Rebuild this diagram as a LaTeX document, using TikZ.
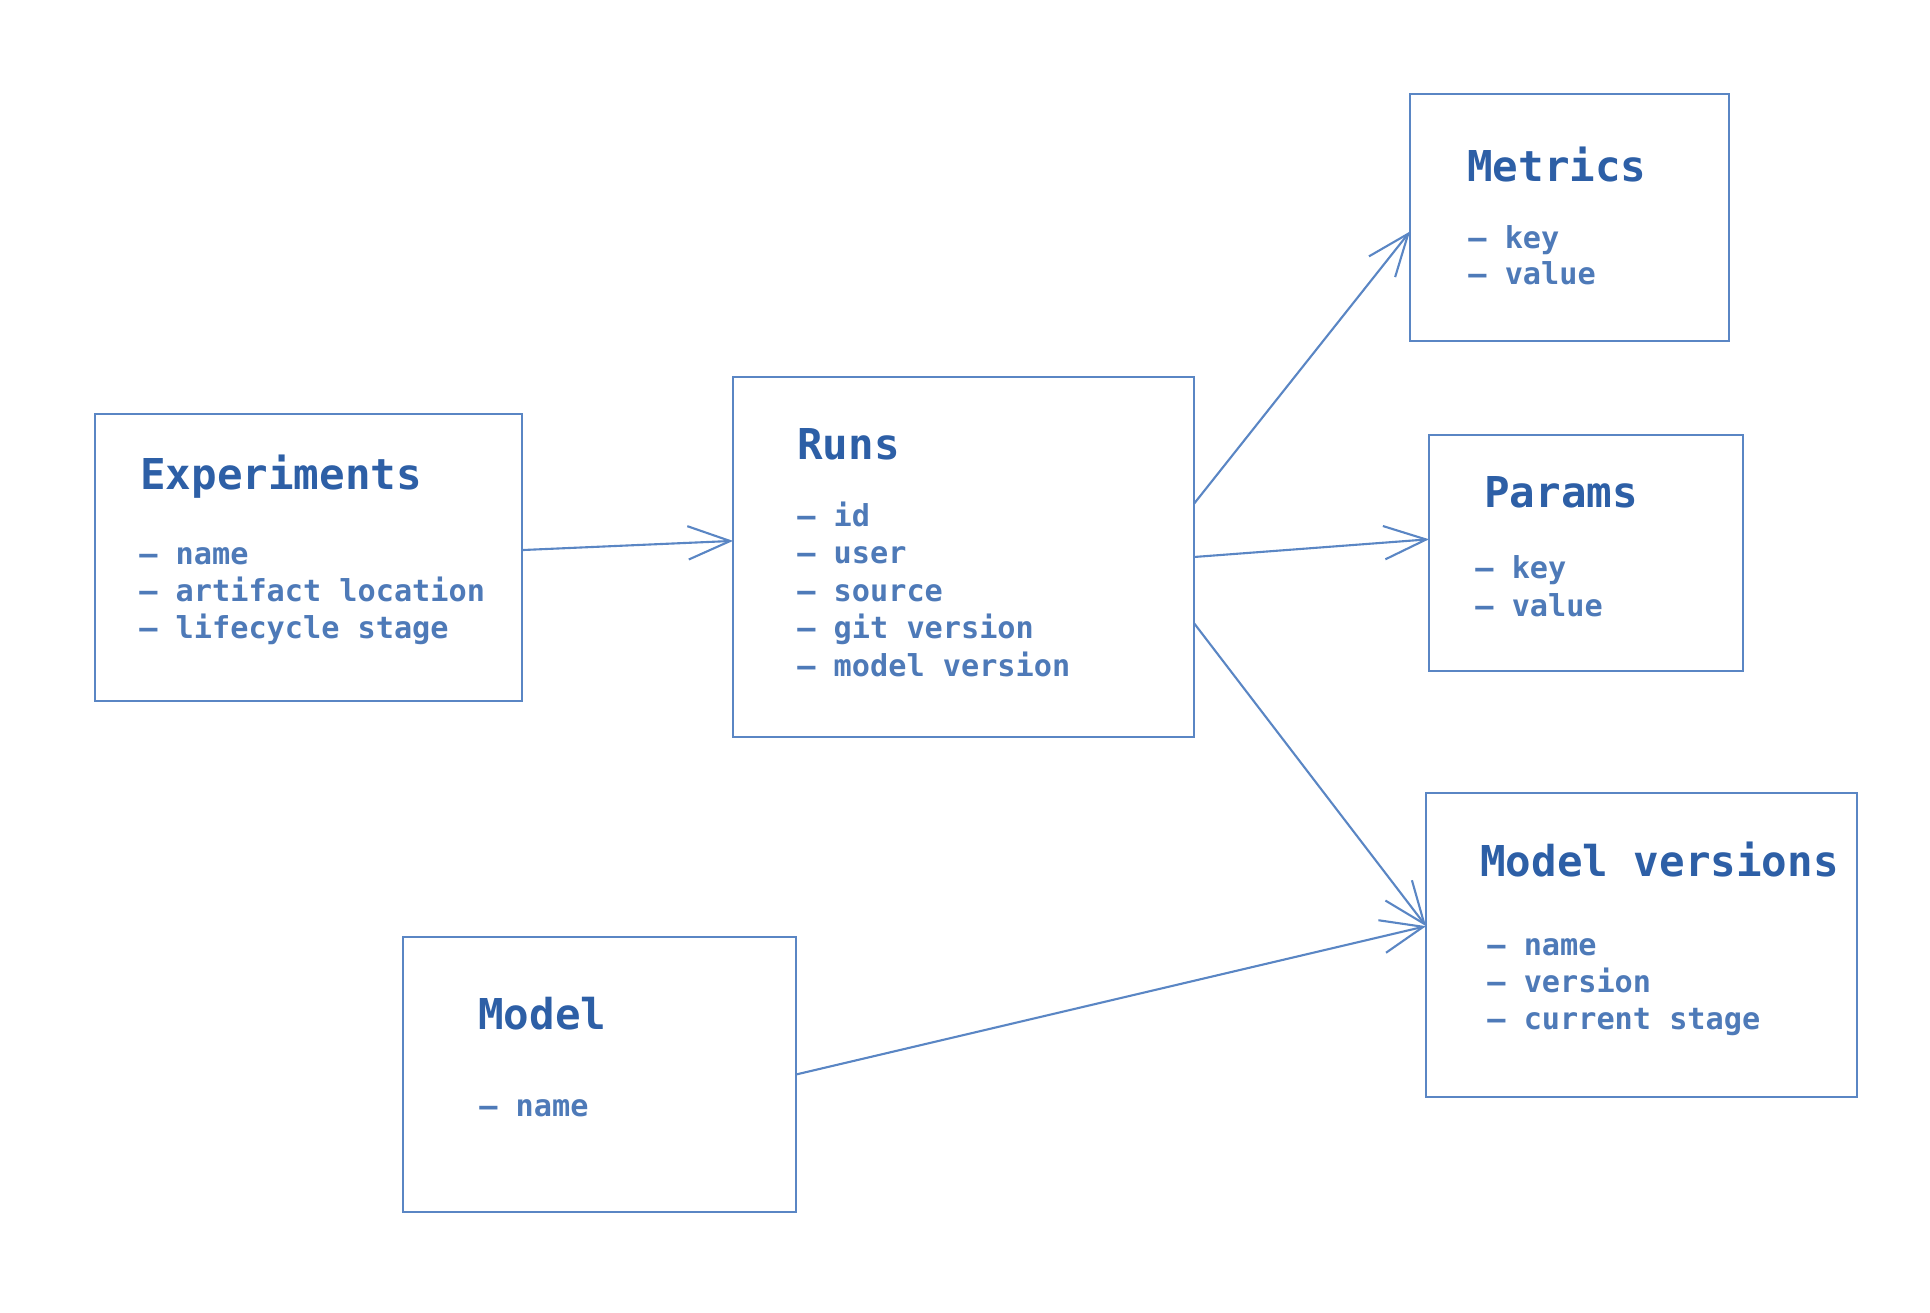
\documentclass[tikz,border=0pt]{standalone}
\usepackage{fontspec}
\setmonofont{DejaVu Sans Mono}
\usepackage{tikz}
\usetikzlibrary{arrows.meta}
\definecolor{titleblue}{HTML}{2D5FA6}
\definecolor{itemblue}{HTML}{4E7AB8}
\definecolor{lineblue}{HTML}{5A86C4}
\tikzset{
  tablebox/.style={draw=lineblue, line width=1.3pt, rectangle, inner sep=0pt, outer sep=0pt},
  boxtitle/.style={anchor=base west, inner sep=0pt, text=titleblue, font=\ttfamily\bfseries\fontsize{24.2}{29}\selectfont},
  boxitem/.style={anchor=base west, inner sep=0pt, text=itemblue, font=\ttfamily\bfseries\fontsize{17.2}{21}\selectfont},
  link/.style={draw=lineblue, line width=1.2pt, -{Straight Barb[length=24pt,width=19pt]}}
}

\begin{document}
\begin{tikzpicture}[x=0.02cm, y=-0.02cm]
  \useasboundingbox (0,0) rectangle (1930,1312);
  % tables
  \node[tablebox, minimum width=85.4mm, minimum height=57.4mm] (exp) at (308.5,557.5) {};
  \node[tablebox, minimum width=92.2mm, minimum height=72mm] (runs) at (963.5,557) {};
  \node[tablebox, minimum width=63.8mm, minimum height=49.4mm] (metrics) at (1569.5,217.5) {};
  \node[tablebox, minimum width=62.8mm, minimum height=47.2mm] (params) at (1586,553) {};
  \node[tablebox, minimum width=86.2mm, minimum height=60.8mm] (mversions) at (1641.5,945) {};
  \node[tablebox, minimum width=78.6mm, minimum height=55mm] (model) at (599.5,1074.5) {};
  % titles
  \node[boxtitle] (exp-title) at (140,489) {Experiments};
  \node[boxtitle] (runs-title) at (797,459) {Runs};
  \node[boxtitle] (metrics-title) at (1467,181) {Metrics};
  \node[boxtitle] (params-title) at (1484,507) {Params};
  \node[boxtitle] (mversions-title) at (1480,876) {Model versions};
  \node[boxtitle] (model-title) at (478,1029) {Model};
  % fields
  \foreach \t [count=\i] in {name, artifact location, lifecycle stage}
    \node[boxitem] (exp-\i) at (139,{564+(\i-1)*37.3}) {– \t};
  \foreach \t [count=\i] in {id, user, source, git version, model version}
    \node[boxitem] (runs-\i) at (797,{526+(\i-1)*37.5}) {– \t};
  \foreach \t [count=\i] in {key, value}
    \node[boxitem] (metrics-\i) at (1468,{248+(\i-1)*36}) {– \t};
  \foreach \t [count=\i] in {key, value}
    \node[boxitem] (params-\i) at (1475,{578+(\i-1)*38}) {– \t};
  \foreach \t [count=\i] in {name, version, current stage}
    \node[boxitem] (mversions-\i) at (1487,{955+(\i-1)*37}) {– \t};
  \node[boxitem] (model-1) at (479,1116) {– name};
  % relations
  \draw[link] (exp.2) -- (runs.176);
  \draw[link] (runs.13) -- (metrics.185);
  \draw[link] (runs.0) -- (params.175);
  \draw[link] (runs.344) -- (mversions.175);
  \draw[link] (model.east) -- (mversions.175);
\end{tikzpicture}
\end{document}
